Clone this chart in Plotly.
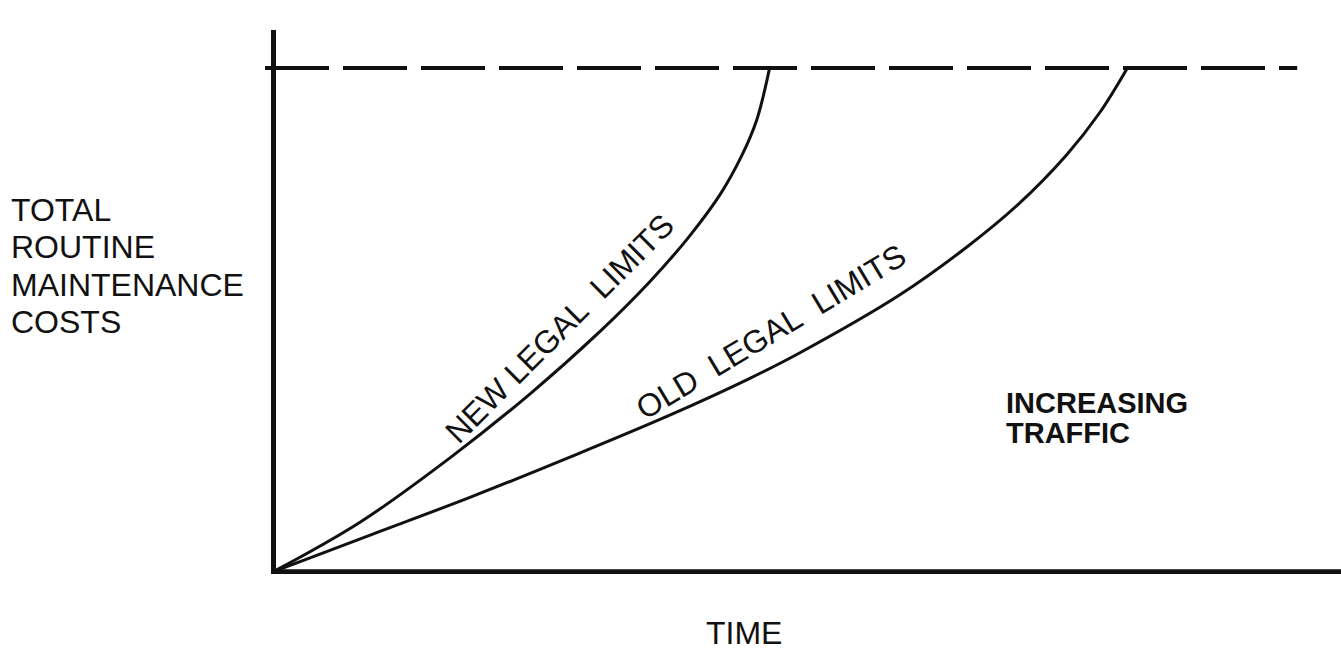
import plotly.graph_objects as go

# ── Data (time 0-100 across, cost 0-100 up) ──────────────────────────────────
new_x = [0, 8.15, 16.6, 24.1, 30.6, 35.3, 39.0, 41.9, 43.9, 45.3, 46.5]
new_y = [0, 9.3, 21.4, 33.4, 45.0, 54.4, 62.9, 70.8, 78.0, 84.7, 94.4]

old_x = [0, 9.1, 18.5, 27.8, 37.2, 44.7, 49.3, 58.7, 65.0, 69.7, 74.3, 77.4, 80.0]
old_y = [0, 6.9, 14.0, 21.5, 29.4, 36.3, 41.0, 51.9, 60.9, 68.7, 78.1, 86.0, 94.4]

limit_x = [-0.75, 95.9]
limit_y = [94.4, 94.4]

y_label_lines = ["TOTAL", "ROUTINE", "MAINTENANCE", "COSTS"]
traffic_lines = ["INCREASING", "TRAFFIC"]
new_label = "NEW LEGAL\u00a0 LIMITS"
old_label = "OLD\u00a0 LEGAL\u00a0 LIMITS"
x_label = "TIME"

_FONT = "Liberation Sans, Arial, sans-serif"
_INK = "#111111"

fig = go.Figure()

# dashed ceiling
fig.add_trace(go.Scatter(
    x=limit_x, y=limit_y, mode="lines",
    line=dict(color=_INK, width=4, dash="64px,14px"),
    hoverinfo="skip",
))

# cost curves
for xs, ys in [(new_x, new_y), (old_x, old_y)]:
    fig.add_trace(go.Scatter(
        x=xs, y=ys, mode="lines",
        line=dict(color=_INK, width=3, shape="spline", smoothing=1),
        hoverinfo="skip",
    ))

# ── Text ──────────────────────────────────────────────────────────────────────
annotations = []
# left-hand label sits outside the axes → paper coordinates
for text, y in zip(y_label_lines, [0.669, 0.601, 0.531, 0.463]):
    annotations.append(dict(xref="paper", yref="paper", x=-0.237, y=y,
                            text=text, xanchor="left", yanchor="middle",
                            showarrow=False, borderpad=0,
                            font=dict(size=32, color=_INK, family=_FONT)))

for text, y in zip(traffic_lines, [31.7, 26.1]):
    annotations.append(dict(x=68.5, y=y, text=text, xanchor="left",
                            yanchor="middle", showarrow=False, borderpad=0,
                            font=dict(size=29, color=_INK, family=_FONT,
                                      weight="bold")))

annotations += [
    dict(x=26.9, y=45.6, text=new_label, textangle=-45, showarrow=False,
         font=dict(size=32, color=_INK, family=_FONT)),
    dict(x=46.6, y=45.0, text=old_label, textangle=-31, showarrow=False,
         font=dict(size=32, color=_INK, family=_FONT)),
    dict(xref="paper", yref="paper", x=0.445, y=-0.1085, text=x_label,
         xanchor="center", yanchor="middle",
         showarrow=False, font=dict(size=32, color=_INK, family=_FONT)),
]

fig.update_layout(
    width=1341, height=650,
    paper_bgcolor="white", plot_bgcolor="white",
    showlegend=False,
    margin=dict(l=265, r=0, t=30, b=76),
    annotations=annotations,
    # x axis baseline (starts at the corner, not at the left pad)
    shapes=[dict(type="line", xref="x", yref="y", x0=0, x1=101, y0=0, y1=0,
                 line=dict(color=_INK, width=5))],
)
fig.update_xaxes(range=[-0.75, 100], showgrid=False, showticklabels=False,
                 ticks="", zeroline=True, zerolinecolor=_INK,
                 zerolinewidth=5, showline=False)
fig.update_yaxes(range=[-0.4, 101.5], showgrid=False, showticklabels=False,
                 ticks="", zeroline=False, showline=False)

# page body has a default 8px margin; drop it so the figure sits at 0,0
fig.write_html("out.html", config={"displayModeBar": False},
               post_script="document.body.style.margin='0';")
